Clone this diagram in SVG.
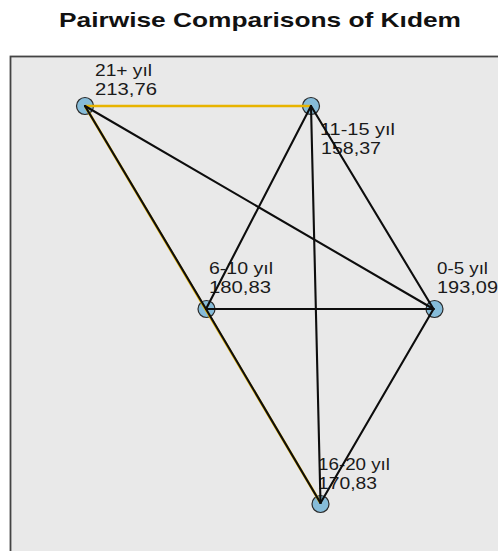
<svg xmlns="http://www.w3.org/2000/svg" width="498" height="551" viewBox="0 0 498 551">
<style>
.title{font-family:"Liberation Sans",Arial,sans-serif;font-weight:bold;font-size:21px;fill:#111}
.lbl{font-family:"Liberation Sans",Arial,sans-serif;font-size:17px;fill:#1a1a1a}
.node{fill:#86bcd9;stroke:#2a2a2a;stroke-width:1.2}
.e{stroke:#0d0d0d;stroke-width:2.1;fill:none;stroke-linecap:round}
.sig{stroke:#e8b400;stroke-width:2.6;fill:none}
</style>
<rect x="0" y="0" width="498" height="551" fill="#ffffff"/>
<text class="title" x="59" y="27" textLength="402" lengthAdjust="spacingAndGlyphs">Pairwise Comparisons of Kıdem</text>
<rect x="10.5" y="56.5" width="600" height="600" fill="#e9e9e9" stroke="#444" stroke-width="1.8"/>
<g id="n21">
<circle class="node" cx="85" cy="106" r="8.5"/>
<text class="lbl" x="95" y="76" textLength="57" lengthAdjust="spacingAndGlyphs">21+ yıl</text>
<text class="lbl" x="95" y="95" textLength="62" lengthAdjust="spacingAndGlyphs">213,76</text>
</g>
<g id="n11">
<circle class="node" cx="311" cy="106" r="8.5"/>
<text class="lbl" x="320" y="135" textLength="75" lengthAdjust="spacingAndGlyphs">11-15 yıl</text>
<text class="lbl" x="321" y="154" textLength="60" lengthAdjust="spacingAndGlyphs">158,37</text>
</g>
<g id="n6">
<circle class="node" cx="206.5" cy="309" r="8.5"/>
<text class="lbl" x="209" y="274" textLength="64" lengthAdjust="spacingAndGlyphs">6-10 yıl</text>
<text class="lbl" x="209" y="293" textLength="62" lengthAdjust="spacingAndGlyphs">180,83</text>
</g>
<g id="n0">
<circle class="node" cx="434.5" cy="309" r="8.5"/>
<text class="lbl" x="437" y="274" textLength="51" lengthAdjust="spacingAndGlyphs">0-5 yıl</text>
<text class="lbl" x="437" y="293" textLength="61" lengthAdjust="spacingAndGlyphs">193,09</text>
</g>
<g id="n16">
<circle class="node" cx="320.5" cy="504" r="8.5"/>
<text class="lbl" x="318" y="470" textLength="72" lengthAdjust="spacingAndGlyphs">16-20 yıl</text>
<text class="lbl" x="318" y="489" textLength="59" lengthAdjust="spacingAndGlyphs">170,83</text>
</g>
<g id="connectors">
<line class="sig" x1="85" y1="106" x2="311" y2="106"/>
<line class="sig" x1="85" y1="106" x2="320.5" y2="503" stroke-width="2.8"/>
<line class="e" x1="85" y1="106" x2="206" y2="309" stroke-width="2"/>
<line class="e" x1="206" y1="309" x2="320.5" y2="503" stroke-width="2"/>
<line class="e" x1="85" y1="106" x2="433.5" y2="309" stroke-width="1.8"/>
<line class="e" x1="311" y1="106" x2="206" y2="309"/>
<line class="e" x1="311" y1="106" x2="433.5" y2="309"/>
<line class="e" x1="311" y1="106" x2="320.5" y2="503"/>
<line class="e" x1="206" y1="309" x2="433.5" y2="309"/>
<line class="e" x1="433.5" y1="309" x2="320.5" y2="503"/>
</g>
</svg>
